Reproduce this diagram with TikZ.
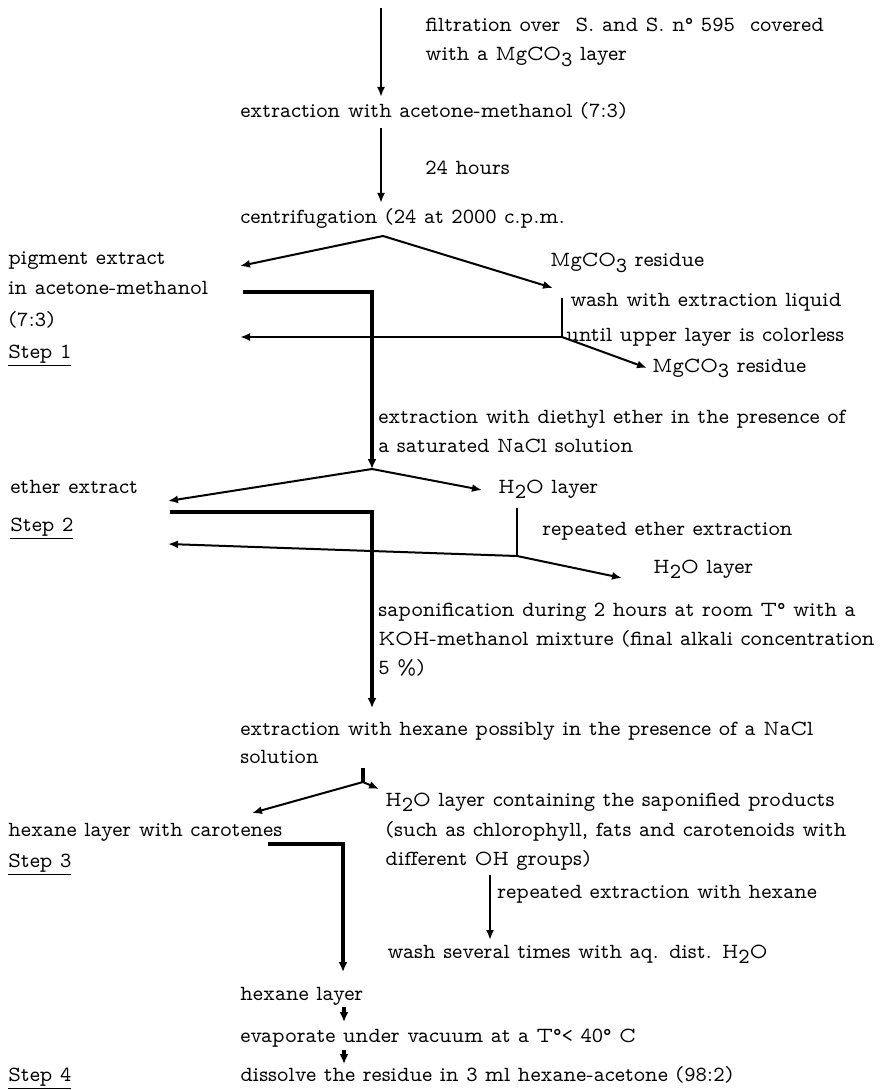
\documentclass[tikz,border=0pt]{standalone}
\usetikzlibrary{arrows.meta}
\newcommand\lowd[1]{\raisebox{-0.6ex}{#1}}
\tikzset{lbl/.style={anchor=west,inner sep=0pt,text height=7pt,text depth=2pt},
  flow/.style={line width=1pt,-{Latex[length=5pt,width=4pt]}},
  heavy/.style={line width=1.8pt,-{Latex[length=5pt,width=4.5pt]}}}
\begin{document}
\begin{tikzpicture}[x=0.5pt,y=-0.5pt,font=\fontfamily{lmvtt}\fontsize{10.8}{12}\selectfont]
                \useasboundingbox (0,0) rectangle (887,1090);

                \node[lbl] at (425,27) (filt) {filtration over\ \ S. and S. n\textdegree{} 595\ \ covered};
                \node[lbl] at (425,56) (filtb) {with a MgCO\lowd{3} layer};
                \node[lbl] at (240,113) (acet) {extraction with acetone-methanol (7:3)};
                \node[lbl] at (425,170) (hrs) {24 hours};
                \node[lbl] at (240,219) (centr) {centrifugation (24 at 2000 c.p.m.};
                \node[lbl] at (8,260) (pig) {pigment extract};
                \node[lbl] at (8,290) (piga) {in acetone-methanol};
                \node[lbl] at (8,322) (pigb) {(7:3)};
                \node[lbl] at (8,353) (st1) {\underline{Step 1}};
                \node[lbl] at (550,262) (res) {MgCO\lowd{3} residue};
                \node[lbl] at (570,302) (wash) {wash with extraction liquid};
                \node[lbl] at (566,337) (washb) {until upper layer is colorless};
                \node[lbl] at (652,367) (resb) {MgCO\lowd{3} residue};
                \node[lbl] at (378,418) (diet) {extraction with diethyl ether in the presence of};
                \node[lbl] at (378,447) (dieta) {a saturated NaCl solution};
                \node[lbl] at (10,488) (eth) {ether extract};
                \node[lbl] at (10,526) (st2) {\underline{Step 2}};
                \node[lbl] at (498,488) (aq) {H\lowd{2}O layer};
                \node[lbl] at (542,530) (reth) {repeated ether extraction};
                \node[lbl] at (653,568) (aqb) {H\lowd{2}O layer};
                \node[lbl] at (378,611) (sap) {saponification during 2 hours at room T\textdegree{} with a};
                \node[lbl] at (378,640) (sapa) {KOH-methanol mixture (final alkali concentration};
                \node[lbl] at (378,669) (sapb) {5 \%)};
                \node[lbl] at (240,730) (hex) {extraction with hexane possibly in the presence of a NaCl};
                \node[lbl] at (240,758) (hexa) {solution};
                \node[lbl] at (385,801) (aqc) {H\lowd{2}O layer containing the saponified products};
                \node[lbl] at (385,831) (aqd) {(such as chlorophyll, fats and carotenoids with};
                \node[lbl] at (385,860) (aqe) {different OH groups)};
                \node[lbl] at (8,831) (car) {hexane layer with carotenes};
                \node[lbl] at (8,862) (st3) {\underline{Step 3}};
                \node[lbl] at (497,893) (rhex) {repeated extraction with hexane};
                \node[lbl] at (387,953) (wsh) {wash several times with aq. dist. H\lowd{2}O};
                \node[lbl] at (240,995) (hl) {hexane layer};
                \node[lbl] at (240,1037) (evap) {evaporate under vacuum at a T\textdegree< 40\textdegree{} C};
                \node[lbl] at (240,1076) (diss) {dissolve the residue in 3 ml hexane-acetone (98:2)};
                \node[lbl] at (8,1076) (st4) {\underline{Step 4}};

                \coordinate (a0) at (381,8);    \coordinate (a1) at (381,97);
                \coordinate (a2) at (381,128);  \coordinate (a3) at (381,203);
                \coordinate (v1) at (383,236);  \coordinate (l1) at (240,266);
                \coordinate (r1) at (553,288);
                \coordinate (k0) at (243,292);  \coordinate (k1) at (372,292);
                \coordinate (v2) at (372,469);
                \coordinate (b0) at (562,298);  \coordinate (b1) at (562,337);
                \coordinate (l2) at (240,337);  \coordinate (r2) at (647,368);
                \coordinate (l3) at (168,501);  \coordinate (r3) at (482,490);
                \coordinate (k2) at (170,512);  \coordinate (k3) at (372,512);
                \coordinate (k4) at (372,708);
                \coordinate (c0) at (517,508);  \coordinate (c1) at (517,556);
                \coordinate (l4) at (168,544);  \coordinate (r4) at (622,578);
                \coordinate (w0) at (363,768);  \coordinate (v3) at (363,782);
                \coordinate (l5) at (252,813);  \coordinate (r5) at (379,789);
                \coordinate (k5) at (268,844);  \coordinate (k6) at (343,844);
                \coordinate (k7) at (343,972);
                \coordinate (d0) at (490,875);  \coordinate (d1) at (490,940);
                \coordinate (e0) at (344,1007); \coordinate (e1) at (344,1022);
                \coordinate (e2) at (344,1050); \coordinate (e3) at (344,1064);

                \draw[flow] (a0) -- (a1);
                \draw[flow] (a2) -- (a3);
                \draw[flow] (v1) -- (l1);
                \draw[flow] (v1) -- (r1);
                \draw[heavy] (k0) -- (k1) -- (v2);
                \draw[line width=1pt] (b0) -- (b1);
                \draw[flow] (b1) -- (l2);
                \draw[flow] (b1) -- (r2);
                \draw[flow] (v2) -- (l3);
                \draw[flow] (v2) -- (r3);
                \draw[heavy] (k2) -- (k3) -- (k4);
                \draw[line width=1pt] (c0) -- (c1);
                \draw[flow] (c1) -- (l4);
                \draw[flow] (c1) -- (r4);
                \draw[line width=1.8pt] (w0) -- (v3);
                \draw[flow] (v3) -- (l5);
                \draw[flow] (v3) -- (r5);
                \draw[heavy] (k5) -- (k6) -- (k7);
                \draw[flow] (d0) -- (d1);
                \draw[heavy] (e0) -- (e1);
                \draw[heavy] (e2) -- (e3);
            \end{tikzpicture}
\end{document}
